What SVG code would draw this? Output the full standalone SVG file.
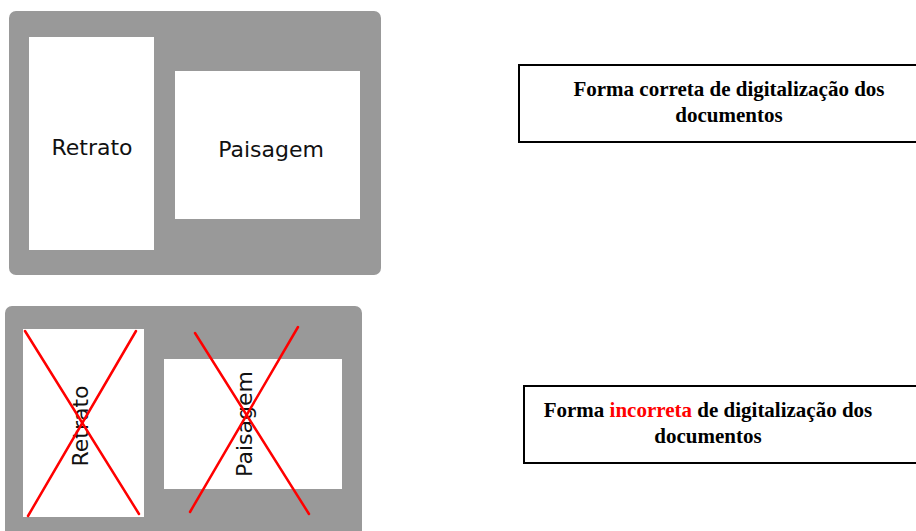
<svg xmlns="http://www.w3.org/2000/svg" width="916" height="531" viewBox="0 0 916 531">
<style>
.panel{fill:#999999}
.page{fill:#ffffff}
.lbl{font-family:"DejaVu Sans",sans-serif;font-size:22px;fill:#111111;text-anchor:middle}
.x{stroke:#ff0000;stroke-width:2.5;stroke-linecap:round}
.box{fill:#ffffff;stroke:#000000;stroke-width:2}
.cap{font-family:"Liberation Serif",serif;font-weight:bold;font-size:21px;fill:#000000;text-anchor:middle}
.red{fill:#ff0000}
</style>
<rect width="916" height="531" fill="#ffffff"/>
<g id="correct-panel">
  <rect class="panel" x="9" y="11" width="372" height="264" rx="7"/>
  <g id="retrato-ok">
    <rect class="page" x="29" y="37" width="125" height="213"/>
    <text class="lbl" x="92" y="155">Retrato</text>
  </g>
  <g id="paisagem-ok">
    <rect class="page" x="175" y="71" width="185" height="148"/>
    <text class="lbl" x="271" y="157">Paisagem</text>
  </g>
</g>
<g id="incorrect-panel">
  <rect class="panel" x="5" y="306" width="357" height="235" rx="7"/>
  <g id="retrato-bad">
    <rect class="page" x="23" y="329" width="121" height="188"/>
    <text class="lbl" transform="translate(88,426) rotate(-90)">Retrato</text>
  </g>
  <g id="paisagem-bad">
    <rect class="page" x="164" y="359" width="178" height="130"/>
    <text class="lbl" transform="translate(252,424) rotate(-90)">Paisagem</text>
  </g>
</g>
<g id="connectors">
  <line class="x" x1="25" y1="331" x2="139" y2="514"/>
  <line class="x" x1="136" y1="331" x2="28" y2="516"/>
  <line class="x" x1="195" y1="333" x2="309" y2="514"/>
  <line class="x" x1="298" y1="327" x2="190" y2="512"/>
</g>
<g id="caption-correct">
  <rect class="box" x="519" y="65" width="410" height="77"/>
  <text class="cap" x="729" y="96">Forma correta de digitalização dos</text>
  <text class="cap" x="729" y="122">documentos</text>
</g>
<g id="caption-incorrect">
  <rect class="box" x="524" y="386" width="410" height="77"/>
  <text class="cap" x="708" y="417">Forma <tspan class="red">incorreta</tspan> de digitalização dos</text>
  <text class="cap" x="708" y="443">documentos</text>
</g>
</svg>
